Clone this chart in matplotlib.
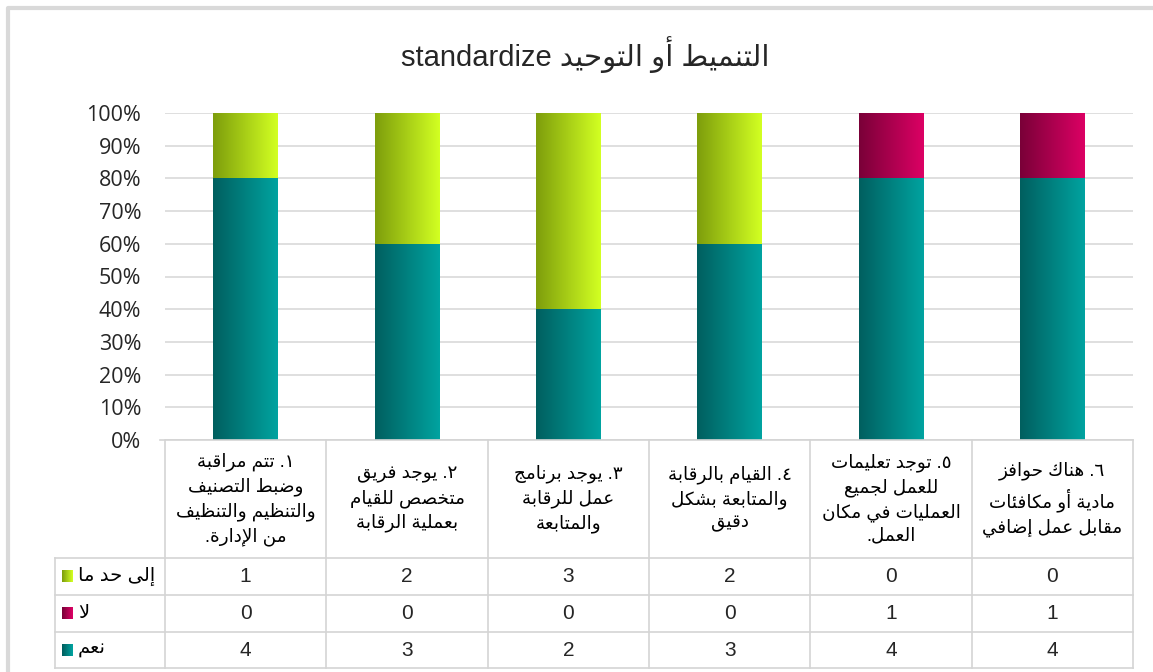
import matplotlib
matplotlib.use("Agg")
import matplotlib.pyplot as plt
import numpy as np
from matplotlib.colors import LinearSegmentedColormap
from matplotlib.ticker import PercentFormatter

plt.rcParams['font.family'] = ['Liberation Sans', 'DejaVu Sans']

title = "التنميط أو التوحيد standardize"
categories = [
    "١. تتم مراقبة\nوضبط التصنيف\nوالتنظيم والتنظيف\nمن الإدارة.",
    "٢. يوجد فريق\nمتخصص للقيام\nبعملية الرقابة",
    "٣. يوجد برنامج\nعمل للرقابة\nوالمتابعة",
    "٤. القيام بالرقابة\nوالمتابعة بشكل\nدقيق",
    "٥. توجد تعليمات\nللعمل لجميع\nالعمليات في مكان\nالعمل.",
    "٦. هناك حوافز\nمادية أو مكافئات\nمقابل عمل إضافي",
]
series_names = ["إلى حد ما", "لا", "نعم"]
some = [1, 2, 3, 2, 0, 0]
no = [0, 0, 0, 0, 1, 1]
yes = [4, 3, 2, 3, 4, 4]
yticks = [0, 0.1, 0.2, 0.3, 0.4, 0.5, 0.6, 0.7, 0.8, 0.9, 1.0]

# gradient colours (dark left -> light right)
grads = {
    "نعم": ("#005f5f", "#00a3a0"),
    "لا": ("#7a0038", "#dc0064"),
    "إلى حد ما": ("#7e9e0c", "#d2ff22"),
}

# --- simple arabic shaping (matplotlib has no bidi / shaping) ---
DUAL = {'ئ': 0xFE89, 'ب': 0xFE8F, 'ت': 0xFE95, 'ث': 0xFE99, 'ج': 0xFE9D, 'ح': 0xFEA1,
        'خ': 0xFEA5, 'س': 0xFEB1, 'ش': 0xFEB5, 'ص': 0xFEB9, 'ض': 0xFEBD, 'ط': 0xFEC1,
        'ظ': 0xFEC5, 'ع': 0xFEC9, 'غ': 0xFECD, 'ف': 0xFED1, 'ق': 0xFED5, 'ك': 0xFED9,
        'ل': 0xFEDD, 'م': 0xFEE1, 'ن': 0xFEE5, 'ه': 0xFEE9, 'ي': 0xFEF1}
RIGHT = {'آ': 0xFE81, 'أ': 0xFE83, 'ؤ': 0xFE85, 'إ': 0xFE87, 'ا': 0xFE8D, 'ة': 0xFE93,
         'د': 0xFEA9, 'ذ': 0xFEAB, 'ر': 0xFEAD, 'ز': 0xFEAF, 'و': 0xFEED, 'ى': 0xFEEF}
LAMALEF = {'آ': 0xFEF5, 'أ': 0xFEF7, 'إ': 0xFEF9, 'ا': 0xFEFB}


def shape_word(w):
    units = []
    i = 0
    while i < len(w):
        c = w[i]
        if c == 'ل' and i + 1 < len(w) and w[i + 1] in LAMALEF:
            units.append(('R', LAMALEF[w[i + 1]]))
            i += 2
            continue
        if c in DUAL:
            units.append(('D', DUAL[c]))
        elif c in RIGHT:
            units.append(('R', RIGHT[c]))
        else:
            units.append(('N', c))
        i += 1
    out = []
    for k, (kind, base) in enumerate(units):
        if kind == 'N':
            out.append(base)
            continue
        jp = k > 0 and units[k - 1][0] == 'D'
        jn = kind == 'D' and k + 1 < len(units) and units[k + 1][0] in 'DR'
        if kind == 'D':
            off = 3 if (jp and jn) else 1 if jp else 2 if jn else 0
        else:
            off = 1 if jp else 0
        out.append(chr(base + off))
    return ''.join(out)


def is_ar(tok):
    return any('\u0600' <= c <= '\u06ff' for c in tok)


def rtl(text):
    lines = []
    for line in text.split('\n'):
        toks = line.split(' ')
        vis = [shape_word(t)[::-1] if is_ar(t) else t for t in reversed(toks)]
        lines.append(' '.join(vis))
    return '\n'.join(lines)


W, H = 1153, 672
fig = plt.figure(figsize=(W / 100, H / 100), dpi=100)

# chart axes in pixel layout
L, R, T, B = 165, 1133, 113, 440
ax = fig.add_axes([L / W, 1 - B / H, (R - L) / W, (B - T) / H])

data = np.array([yes, no, some], dtype=float)
tot = data.sum(axis=0)
pct = data / tot
x = np.arange(len(categories))
bottom = np.zeros(len(categories))
for name, vals in zip(["نعم", "لا", "إلى حد ما"], pct):
    bars = ax.bar(x, vals, 0.4, bottom=bottom, color='none', zorder=2)
    cmap = LinearSegmentedColormap.from_list(name, grads[name])
    for p in bars.patches:
        if p.get_height() <= 0:
            continue
        x0, y0 = p.get_x(), p.get_y()
        ax.imshow(np.linspace(0, 1, 64).reshape(1, -1), cmap=cmap, aspect='auto',
                  extent=[x0, x0 + p.get_width(), y0, y0 + p.get_height()], zorder=2,
                  interpolation='bilinear')
    bottom += vals

ax.set_xlim(-0.5, len(categories) - 0.5)
ax.set_ylim(0, 1)
ax.set_yticks(yticks)
ax.yaxis.set_major_formatter(PercentFormatter(1.0, decimals=0))
ax.tick_params(axis='y', length=0, pad=17, labelsize=15.5, labelcolor='#262626')
for t in ax.get_yticklabels():
    t.set_fontfamily(['Open Sans', 'DejaVu Sans'])
ax.set_xticks([])
ax.grid(axis='y', color='#d9d9d9', linewidth=1.2, zorder=0)
ax.set_axisbelow(True)
for s in ax.spines.values():
    s.set_visible(False)

# overlay for frame, title and data table (pixel coordinates)
ov = fig.add_axes([0, 0, 1, 1], zorder=-1)
ov.set_xlim(0, W)
ov.set_ylim(H, 0)
ov.axis('off')
ov.plot([8, 8, W], [H, 8, 8], color='#d9d9d9', linewidth=3, solid_capstyle='butt')
ov.text(585, 55, rtl(title), ha='center', va='center', fontsize=21, color='#262626')

top_ov = fig.add_axes([0, 0, 1, 1], zorder=3)
top_ov.set_xlim(0, W)
top_ov.set_ylim(H, 0)
top_ov.axis('off')
top_ov.patch.set_alpha(0)

lc = '#d4d4d4'
colw = (R - L) / len(categories)
edges = [L + i * colw for i in range(len(categories) + 1)]
rows = [558, 595, 632, 668]
TL = 55
top_ov.plot([L - 5, R], [B, B], color=lc, lw=1.2)
for e in edges:
    top_ov.plot([e, e], [B, rows[-1]], color=lc, lw=1.2)
top_ov.plot([TL, TL], [rows[0], rows[-1]], color=lc, lw=1.2)
for r in rows:
    top_ov.plot([TL, R], [r, r], color=lc, lw=1.2)

for i, lab in enumerate(categories):
    cx = (edges[i] + edges[i + 1]) / 2
    top_ov.text(cx, (B + rows[0]) / 2, rtl(lab), ha='center', va='center',
                fontsize=13.2, linespacing=1.45, color='#000000', multialignment='center')

for j, (name, vals) in enumerate(zip(series_names, [some, no, yes])):
    cy = (rows[j] + rows[j + 1]) / 2
    cmap = LinearSegmentedColormap.from_list(name + 'k', grads[name])
    top_ov.imshow(np.linspace(0, 1, 16).reshape(1, -1), cmap=cmap, aspect='auto',
                  extent=[62, 73, cy + 6, cy - 6], interpolation='bilinear')
    top_ov.text(78, cy, rtl(name), ha='left', va='center', fontsize=14, color='#000000')
    for i, v in enumerate(vals):
        cx = (edges[i] + edges[i + 1]) / 2
        top_ov.text(cx, cy, str(v), ha='center', va='center', fontsize=15, color='#262626')

top_ov.set_xlim(0, W)
top_ov.set_ylim(H, 0)

fig.savefig("out.png", dpi=100)
